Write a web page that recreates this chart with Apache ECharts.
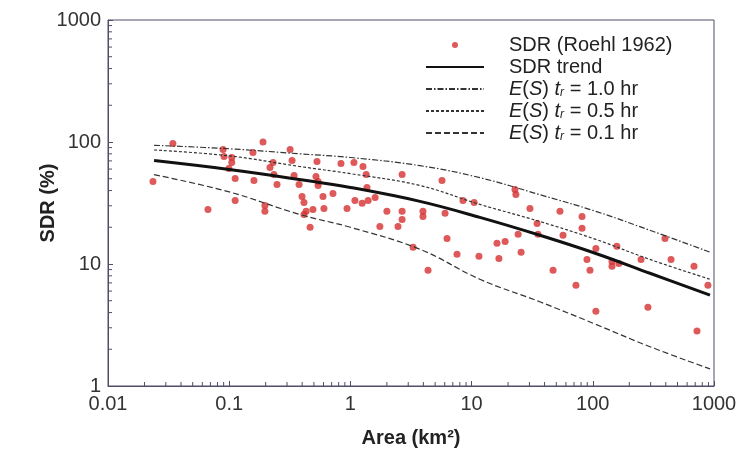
<!DOCTYPE html>
<html>
<head>
<meta charset="utf-8">
<script src="https://cdn.jsdelivr.net/npm/echarts@6/dist/echarts.min.js"></script>
<style>
html,body{margin:0;padding:0;background:#fff;}
#c{width:740px;height:453px;}
</style>
</head>
<body>
<div id="c"></div>
<script>
// Observed SDR (Roehl 1962): drainage area (km2) and SDR (%)
const obsArea = [0.0235,0.0343,0.0668,0.089,0.0906,0.105,0.105,0.0995,0.112,0.112,
  0.160,0.190,0.157,0.197,0.197,0.230,0.217,0.234,0.248,0.318,
  0.330,0.343,0.377,0.399,0.414,0.431,0.414,0.491,0.465,0.530,
  0.52,0.541,0.541,0.594,0.605,0.718,0.836,1.07,1.27,1.35,
  1.37,1.60,1.40,1.25,1.09,0.938,1.75,2.0,2.67,2.67,
  2.67,2.47,3.29,3.97,3.97,4.37,5.70,6.04,6.27,7.58,
  8.49,10.5,11.5,16.2,16.8,18.9,22.8,23.2,30.3,53.6,
  81.5,81.5,34.7,35.3,24.2,25.6,56.8,47.0,72.6,89.5,
  94.8,106,106,144,144,164,158,250,285,394,
  442,684,891,724];
const obsSDR = [47.5,97,28,86.7,76,74.5,67.9,60.6,50.2,33.2,
  48.3,100,81.9,30.2,27.0,67.9,61.8,54.1,44.9,86.7,
  70.5,53.1,44.9,35.8,31.9,27.0,25.5,28.0,20.0,69.2,
  52.1,47.5,44.0,35.8,28.5,37.8,66.6,67.9,62.9,54.1,
  42.4,35.1,33.2,31.4,33.2,28.5,20.3,27.0,54.1,27.0,
  23.2,20.3,13.7,27.0,24.5,8.88,48.3,26.0,16.2,12.0,
  33.2,31.9,11.6,14.8,11.1,15.3,40.8,37.2,28.5,27.0,
  24.5,19.6,21.5,17.5,17.5,12.5,17.2,8.88,6.70,10.9,
  8.88,13.4,4.10,10.5,9.58,10.1,14.0,10.9,4.43,16.2,
  10.9,9.58,6.70,2.82];

// Curves
const curveArea = [0.024,0.1,0.38,1,3.75,11.7,36.6,106,296,927];
const trendSDR  = [70.4,59.5,49.3,42.4,32.6,24.1,17.2,12.2,8.4,5.55];
const es10SDR   = [94,88,80,74.6,64,51,37,27,18.9,12.5];
const es05SDR   = [86,77,63,55,44,30.8,22.3,15.9,10.9,7.5];
const es01SDR   = [54,39,25.5,20,13.2,7.5,4.9,3.2,2.1,1.38];

// Axis tick values
const xTickLabels = [0.01,0.1,1,10,100,1000];
const yTickLabels = [1,10,100,1000];
const minorMult = [2,3,4,5,6,7,8,9];

const nTrend = 'SDR trend';
const nObs = 'SDR (Roehl 1962)';
const n10 = 'E(S) t_r = 1.0 hr';
const n05 = 'E(S) t_r = 0.5 hr';
const n01 = 'E(S) t_r = 0.1 hr';

const FONT = 'Liberation Sans, Arial, Helvetica, sans-serif';
const AX = '#4e4e66';

function pairs(xs, ys){ return xs.map((x,i)=>[x, ys[i]]); }
function plain(v){ return String(+(+v).toPrecision(3)); }

const xMinor = [], yMinor = [];
for (let k=0;k<xTickLabels.length-1;k++) minorMult.forEach(m=>xMinor.push([m*xTickLabels[k], yTickLabels[0]]));
for (let k=0;k<yTickLabels.length-1;k++) minorMult.forEach(m=>yMinor.push([xTickLabels[0], m*yTickLabels[k]]));

const hideSym = {color:'rgba(0,0,0,0)', opacity:0, borderWidth:0};

const chart = echarts.init(document.getElementById('c'), null, {renderer:'canvas'});
chart.setOption({
  animation:false,
  backgroundColor:'#fff',
  textStyle:{fontFamily:FONT},
  grid:{left:108, top:20, right:26, bottom:66, show:true, borderColor:AX, borderWidth:1, containLabel:false},
  legend:{
    orient:'vertical', left:420, top:30, itemGap:2, itemWidth:58, itemHeight:6,
    data:[{name:nObs, icon:'circle'},
      {name:nTrend, itemStyle:hideSym},
      {name:n10, itemStyle:hideSym},
      {name:n05, itemStyle:hideSym},
      {name:n01, itemStyle:hideSym}],
    textStyle:{fontFamily:FONT, fontSize:20, color:'#222', lineHeight:20, padding:[0,0,0,20],
      rich:{
        i:{fontStyle:'italic', fontFamily:FONT, fontSize:20, color:'#222', lineHeight:20},
        s:{fontStyle:'italic', fontFamily:FONT, fontSize:12, color:'#222', lineHeight:20, padding:[8,0,0,0]}
      }},
    formatter:function(name){
      if (name.indexOf('E(S)')===0){
        const v = name.split('=')[1];
        return '{i|E}({i|S}) {i|t}{s|r} =' + v;
      }
      return name;
    }
  },
  xAxis:{
    type:'log', logBase:10, min:0.01, max:1000,
    name:'Area (km²)', nameLocation:'middle', nameGap:42, nameMoveOverlap:false,
    nameTextStyle:{fontFamily:FONT, fontSize:20, fontWeight:'bold', color:'#222'},
    axisLine:{lineStyle:{color:AX, width:1}},
    axisTick:{inside:true, length:5, lineStyle:{color:AX}},
    axisLabel:{fontFamily:FONT, fontSize:20, color:'#333', margin:8, formatter:plain},
    splitLine:{show:false}
  },
  yAxis:{
    type:'log', logBase:10, min:1, max:1000,
    name:'SDR (%)', nameLocation:'middle', nameGap:50, nameRotate:90, nameMoveOverlap:false,
    nameTextStyle:{fontFamily:FONT, fontSize:20, fontWeight:'bold', color:'#222'},
    axisLine:{lineStyle:{color:AX, width:1}},
    axisTick:{inside:true, length:5, lineStyle:{color:AX}},
    axisLabel:{fontFamily:FONT, fontSize:20, color:'#333', margin:7, formatter:plain},
    splitLine:{show:false}
  },
  series:[
    {name:nObs, type:'scatter', data:pairs(obsArea, obsSDR), symbolSize:7,
      itemStyle:{color:'#d63030'}, z:2},
    {name:nTrend, type:'line', data:pairs(curveArea, trendSDR), smooth:0.4, showSymbol:false, symbol:'none',
      lineStyle:{color:'#111', width:3}, itemStyle:{color:'#111'}, z:3},
    {name:n10, type:'line', data:pairs(curveArea, es10SDR), smooth:0.4, showSymbol:false, symbol:'none',
      lineStyle:{color:'#333', width:1.2, type:[6,2,1.5,2]}, itemStyle:{color:'#333'}, z:3},
    {name:n05, type:'line', data:pairs(curveArea, es05SDR), smooth:0.4, showSymbol:false, symbol:'none',
      lineStyle:{color:'#333', width:1.2, type:[3,2]}, itemStyle:{color:'#333'}, z:3},
    {name:n01, type:'line', data:pairs(curveArea, es01SDR), smooth:0.4, showSymbol:false, symbol:'none',
      lineStyle:{color:'#333', width:1.2, type:[6,3]}, itemStyle:{color:'#333'}, z:3},
    {type:'custom', data:xMinor, silent:true, clip:false, z:4,
      renderItem:function(params, api){
        const p = api.coord([api.value(0), api.value(1)]);
        return {type:'line', shape:{x1:p[0], y1:p[1], x2:p[0], y2:p[1]-4}, style:{stroke:AX, lineWidth:1}};
      }},
    {type:'custom', data:yMinor, silent:true, clip:false, z:4,
      renderItem:function(params, api){
        const p = api.coord([api.value(0), api.value(1)]);
        return {type:'line', shape:{x1:p[0], y1:p[1], x2:p[0]+4, y2:p[1]}, style:{stroke:AX, lineWidth:1}};
      }}
  ]
});
</script>
</body>
</html>
